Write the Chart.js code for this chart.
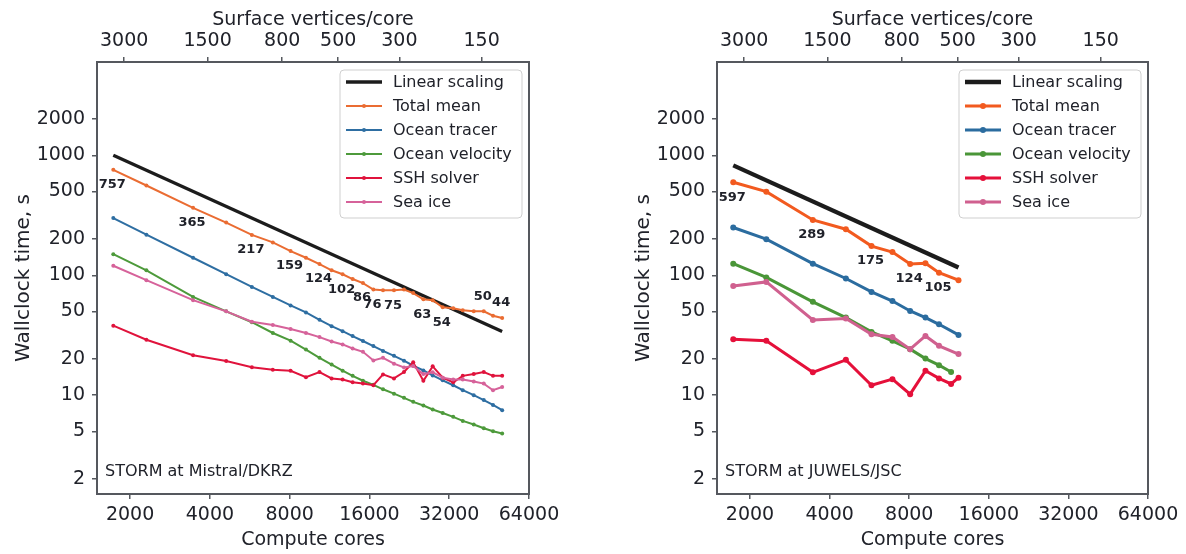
<!DOCTYPE html>
<html>
<head>
<meta charset="utf-8">
<script src="https://cdn.jsdelivr.net/npm/chart.js@4.4.1/dist/chart.umd.min.js"></script>
<style>
  body { margin: 0; background: #fff; width: 1186px; height: 554px; overflow: hidden; position: relative; }
  .panel { position: absolute; top: 0; height: 554px; }
</style>
</head>
<body>
<div class="panel" style="left:0;width:620px"><canvas id="left"></canvas></div>
<div class="panel" style="left:620px;width:566px"><canvas id="right"></canvas></div>
<script>
// axes
const xTicks = [2000, 4000, 8000, 16000, 32000, 64000];
const yTicks = [2, 5, 10, 20, 50, 100, 200, 500, 1000, 2000];
const topTickLabels = [3000, 1500, 800, 500, 300, 150];
const topTickCores = [1900, 3920, 7500, 12200, 20750, 42400];
const seriesNames = ['Linear scaling', 'Total mean', 'Ocean tracer', 'Ocean velocity', 'SSH solver', 'Sea ice'];

// Mistral/DKRZ
const leftCores = [1728, 2304, 3456, 4608, 5760, 6912, 8064, 9216, 10368, 11520, 12672, 13824, 15120,
                   16560, 18000, 19800, 21600, 23400, 25560, 27720, 30240, 33120, 36000, 39600, 43200, 46800, 50688];
const leftLinearCores = [1728, 50688];
const leftLinear = [1000, 34];
const leftTotal = [757, 560, 365, 275, 217, 188, 159, 140, 124, 110, 102, 93, 86, 76, 75, 75, 76, 71, 63, 62, 54, 53, 51, 50, 50, 46, 44];
const leftTracer = [300, 218, 140, 102, 80, 66, 56, 49, 42.5, 37.6, 34.2, 31.1, 28.3, 25.7, 23.4, 21.3, 19.4, 17.6, 16.1, 14.6, 13.3, 12.1, 11.0, 10.0, 9.1, 8.3, 7.5];
const leftVelocity = [150, 110, 66, 50, 40.6, 33, 28.5, 24, 20.5, 18, 16, 14.5, 13.2, 12.2, 11.2, 10.3, 9.5, 8.8, 8.2, 7.6, 7.1, 6.6, 6.1, 5.7, 5.3, 5.0, 4.8];
const leftSSH = [38, 29, 21.5, 19.3, 17.1, 16.3, 16, 14.1, 15.6, 13.8, 13.5, 12.8, 12.5, 12.1, 14.9, 13.8, 15.6, 18.8, 13.2, 17.4, 14, 12.8, 14.5, 15, 15.6, 14.5, 14.5];
const leftIce = [120, 91, 62, 50, 41, 38.5, 35.6, 33, 30.5, 28, 26.5, 24.5, 23, 19.5, 20.5, 18.3, 17, 17.5, 15, 15.5, 14, 13.5, 13.5, 13, 12.5, 11, 11.7];
const leftLabelIdx = [0, 2, 4, 6, 8, 10, 12, 13, 15, 18, 20, 24, 26];
const leftLabelAbove = [24, 26];

// JUWELS/JSC
const rightCores = [1728, 2304, 3456, 4608, 5760, 6912, 8064, 9216, 10368, 11520, 12288];
const rightLinearCores = [1728, 12288];
const rightLinear = [825, 116];
const rightTotal = [597, 498, 289, 242, 175, 156, 124, 126, 105, null, 91];
const rightTracer = [250, 200, 125, 94, 72.6, 61, 50.4, 44.4, 39, null, 31.8];
const rightVelocity = [125, 96, 60, 44.4, 33.7, 28.4, 24.2, 20.2, 17.8, 15.6, null];
const rightSSH = [29.3, 28.4, 15.5, 19.7, 12.1, 13.6, 10.2, 16, 13.8, 12.4, 14];
const rightIce = [81.5, 88, 42.4, 43.6, 32.2, 30.6, 24.2, 31.2, 25.8, null, 22];
const rightLabelIdx = [0, 2, 4, 6, 8];
const rightLabelAbove = [];

const leftColors = ['#1c1c1c', '#ea6c32', '#2e6ea2', '#4d9a3b', '#e0133c', '#d6629a'];
const rightColors = ['#1c1c1c', '#f25a1f', '#2b6c9f', '#4a9638', '#e5103a', '#d0608f'];
const textColor = '#20222a';
const frameColor = '#55585e';

Chart.defaults.font.family = 'DejaVu Sans';
Chart.defaults.color = textColor;

const pts = (xs, ys) => xs.map((x, i) => ({x: x, y: ys[i]}));

const framePlugin = {
  id: 'frame',
  afterDraw(chart, args, o) {
    const {ctx, chartArea: a} = chart;
    ctx.save();
    // annotations on total mean
    const meta = chart.getDatasetMeta(1);
    ctx.font = 'bold 13px DejaVu Sans';
    ctx.fillStyle = textColor;
    ctx.textAlign = 'center';
    ctx.textBaseline = 'middle';
    o.labelIdx.forEach(i => {
      const p = meta.data[i];
      const v = chart.data.datasets[1].data[i].y;
      const dy = o.above.includes(i) ? -15 : 15;
      ctx.fillText(String(v), p.x - 1, p.y + dy);
    });
    // note
    ctx.font = '16px DejaVu Sans';
    ctx.textAlign = 'left';
    ctx.fillText(o.note, a.left + 8, a.bottom - 22);
    // legend
    const bw = 182, bh = 148;
    const bx = a.right - 7 - bw, by = a.top + 8;
    ctx.fillStyle = 'rgba(255,255,255,0.85)';
    ctx.strokeStyle = '#cfcfcf';
    ctx.lineWidth = 1;
    ctx.beginPath();
    ctx.roundRect(bx, by, bw, bh, 4);
    ctx.fill();
    ctx.stroke();
    ctx.font = '16px DejaVu Sans';
    chart.data.datasets.forEach((ds, k) => {
      const yy = by + 12 + k * 24;
      ctx.strokeStyle = ds.borderColor;
      ctx.lineWidth = ds.borderWidth;
      ctx.beginPath();
      ctx.moveTo(bx + 6, yy);
      ctx.lineTo(bx + 42, yy);
      ctx.stroke();
      if (ds.pointRadius > 0) {
        ctx.fillStyle = ds.borderColor;
        ctx.beginPath();
        ctx.arc(bx + 24, yy, ds.pointRadius, 0, Math.PI * 2);
        ctx.fill();
      }
      ctx.fillStyle = textColor;
      ctx.fillText(ds.label, bx + 53, yy + 1);
    });
    // frame
    ctx.strokeStyle = frameColor;
    ctx.lineWidth = 2;
    ctx.strokeRect(a.left, a.top, a.right - a.left, a.bottom - a.top);
    ctx.restore();
  }
};

function makeChart(id, cores, linCores, series, colors, lw, pr, padRight, note, labelIdx, above) {
  const datasets = [{
    label: seriesNames[0],
    data: pts(linCores, series[0]),
    borderColor: colors[0], backgroundColor: colors[0],
    borderWidth: lw + 1.3, pointRadius: 0, order: 6
  }];
  for (let k = 1; k < 6; k++) {
    datasets.push({
      label: seriesNames[k],
      data: pts(cores, series[k]),
      borderColor: colors[k], backgroundColor: colors[k],
      borderWidth: lw, pointRadius: pr, pointBorderWidth: 0,
      spanGaps: true, order: 6 - k
    });
  }
  const tickFont = {size: 19};
  const grid = {display: true, drawOnChartArea: false, drawTicks: true, tickLength: 5, color: frameColor, lineWidth: 1.5};
  return new Chart(document.getElementById(id), {
    type: 'line',
    data: {datasets: datasets},
    options: {
      responsive: true,
      maintainAspectRatio: false,
      animation: false,
      layout: {padding: {left: 0, right: padRight, top: 0, bottom: 0}},
      plugins: {
        legend: {display: false},
        tooltip: {enabled: false},
        frame: {note: note, labelIdx: labelIdx, above: above}
      },
      scales: {
        x: {
          type: 'logarithmic', position: 'bottom', min: 1500, max: 64000,
          afterBuildTicks: s => { s.ticks = xTicks.map(v => ({value: v})); },
          afterFit: s => { s.height = 60; },
          ticks: {font: tickFont, padding: 5, maxRotation: 0, autoSkip: false, callback: v => String(v)},
          grid: grid,
          border: {display: false},
          title: {display: true, text: 'Compute cores', font: {size: 19}, padding: {top: 0, bottom: 3}}
        },
        x2: {
          type: 'logarithmic', axis: 'x', position: 'top', min: 1500, max: 64000,
          afterBuildTicks: s => { s.ticks = topTickCores.map(v => ({value: v})); },
          afterFit: s => { s.height = 62; },
          ticks: {font: tickFont, padding: 5, maxRotation: 0, autoSkip: false, callback: (v, i) => String(topTickLabels[i])},
          grid: grid,
          border: {display: false},
          title: {display: true, text: 'Surface vertices/core', font: {size: 19}, padding: {top: 9, bottom: 0}}
        },
        y: {
          type: 'logarithmic', position: 'left', min: 1.5, max: 6000,
          afterBuildTicks: s => { s.ticks = yTicks.map(v => ({value: v})); },
          afterFit: s => { s.width = 97; },
          ticks: {font: tickFont, padding: 7, autoSkip: false, callback: v => String(v)},
          grid: grid,
          border: {display: false},
          title: {display: true, text: 'Wallclock time, s', font: {size: 20}, padding: {top: 12, bottom: 0}}
        }
      }
    },
    plugins: [framePlugin]
  });
}

makeChart('left', leftCores, leftLinearCores,
  [leftLinear, leftTotal, leftTracer, leftVelocity, leftSSH, leftIce],
  leftColors, 2, 2, 91, 'STORM at Mistral/DKRZ', leftLabelIdx, leftLabelAbove);

makeChart('right', rightCores, rightLinearCores,
  [rightLinear, rightTotal, rightTracer, rightVelocity, rightSSH, rightIce],
  rightColors, 3, 3, 38, 'STORM at JUWELS/JSC', rightLabelIdx, rightLabelAbove);
</script>
</body>
</html>
